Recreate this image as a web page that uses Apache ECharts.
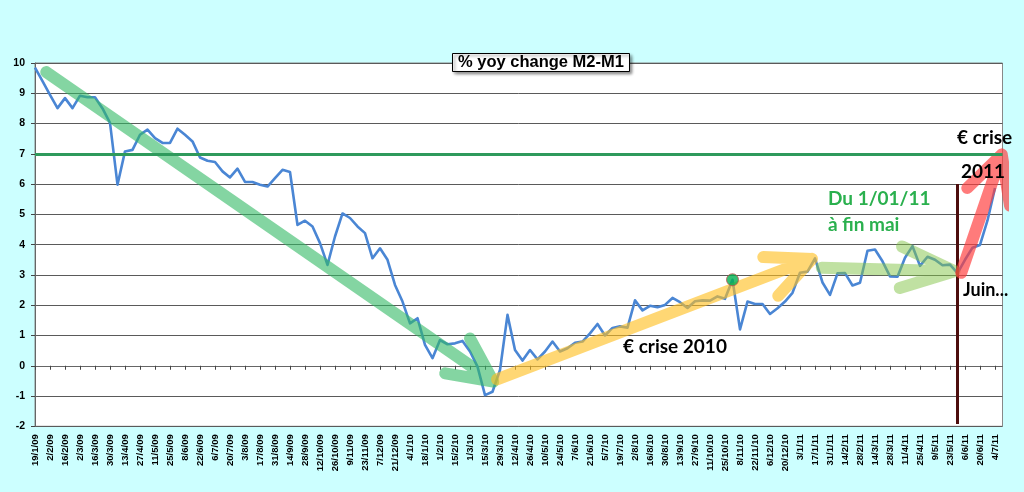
<!DOCTYPE html>
<html>
<head>
<meta charset="utf-8">
<script src="https://cdn.jsdelivr.net/npm/echarts@6/dist/echarts.min.js"></script>
<style>
  html, body { margin: 0; padding: 0; background: #ccffff; }
  #chart { width: 1024px; height: 492px; }
</style>
</head>
<body>
<div id="chart"></div>
<script>
// semaines (lundi), une étiquette sur deux est affichée
var weeks = [
  "19/1/09","26/1/09","2/2/09","9/2/09","16/2/09","23/2/09","2/3/09","9/3/09","16/3/09","23/3/09",
  "30/3/09","6/4/09","13/4/09","20/4/09","27/4/09","4/5/09","11/5/09","18/5/09","25/5/09","1/6/09",
  "8/6/09","15/6/09","22/6/09","29/6/09","6/7/09","13/7/09","20/7/09","27/7/09","3/8/09","10/8/09",
  "17/8/09","24/8/09","31/8/09","7/9/09","14/9/09","21/9/09","28/9/09","5/10/09","12/10/09","19/10/09",
  "26/10/09","2/11/09","9/11/09","16/11/09","23/11/09","30/11/09","7/12/09","14/12/09","21/12/09","28/12/09",
  "4/1/10","11/1/10","18/1/10","25/1/10","1/2/10","8/2/10","15/2/10","22/2/10","1/3/10","8/3/10",
  "15/3/10","22/3/10","29/3/10","5/4/10","12/4/10","19/4/10","26/4/10","3/5/10","10/5/10","17/5/10",
  "24/5/10","31/5/10","7/6/10","14/6/10","21/6/10","28/6/10","5/7/10","12/7/10","19/7/10","26/7/10",
  "2/8/10","9/8/10","16/8/10","23/8/10","30/8/10","6/9/10","13/9/10","20/9/10","27/9/10","4/10/10",
  "11/10/10","18/10/10","25/10/10","1/11/10","8/11/10","15/11/10","22/11/10","29/11/10","6/12/10","13/12/10",
  "20/12/10","27/12/10","3/1/11","10/1/11","17/1/11","24/1/11","31/1/11","7/2/11","14/2/11","21/2/11",
  "28/2/11","7/3/11","14/3/11","21/3/11","28/3/11","4/4/11","11/4/11","18/4/11","25/4/11","2/5/11",
  "9/5/11","16/5/11","23/5/11","30/5/11","6/6/11","13/6/11","20/6/11","27/6/11","4/7/11","11/7/11"
];

// % yoy change M2-M1
var m2m1 = [
  9.85, 9.40, 8.95, 8.51, 8.84, 8.51, 8.92, 8.87, 8.87, 8.50,
  8.02, 5.98, 7.08, 7.13, 7.63, 7.80, 7.52, 7.36, 7.36, 7.83,
  7.63, 7.41, 6.88, 6.77, 6.73, 6.42, 6.22, 6.51, 6.07, 6.07,
  5.98, 5.92, 6.20, 6.47, 6.40, 4.65, 4.79, 4.60, 4.05, 3.33,
  4.27, 5.03, 4.88, 4.60, 4.38, 3.55, 3.88, 3.50, 2.67, 2.12,
  1.40, 1.57, 0.69, 0.25, 0.85, 0.71, 0.74, 0.82, 0.47, -0.03,
  -0.97, -0.86, -0.14, 1.68, 0.52, 0.17, 0.52, 0.21, 0.47, 0.80,
  0.47, 0.58, 0.76, 0.80, 1.07, 1.38, 1.00, 1.25, 1.30, 1.26,
  2.16, 1.83, 1.98, 1.93, 2.01, 2.24, 2.10, 1.91, 2.13, 2.16,
  2.15, 2.29, 2.21, 2.84, 1.20, 2.12, 2.04, 2.04, 1.71, 1.90,
  2.12, 2.41, 3.07, 3.11, 3.55, 2.75, 2.34, 3.05, 3.06, 2.65,
  2.74, 3.80, 3.84, 3.45, 2.95, 2.94, 3.57, 3.95, 3.30, 3.60,
  3.50, 3.32, 3.34, 3.06, 3.50, 3.90, 3.99, 4.80, 5.87
];

var yTicks = { min: -2, max: 10, step: 1 };
var seuil = 7;

// point vert et ligne verticale (juin 2011)
var pointVert = [["1/11/10", 2.84]];
var ligneJuin = [["30/5/11", 6], ["30/5/11", -1.92]];

// flèches : [index semaine, valeur]
var flecheVerte = [[1.5, 9.7], [61.1, -0.52], "-", [54.7, -0.25], [61.1, -0.52], [58, 0.9]];
var flecheJaune = [[61.6, -0.45], [103.6, 3.53], "-", [97.1, 3.59], [103.6, 3.53], [99.1, 2.31]];
var flecheLime  = [[104.9, 3.24], [122.6, 3.12], "-", [115.6, 3.94], [122.6, 3.12], [115.3, 2.57]];
var flecheRouge = [[123.5, 3.07], [128.9, 6.98], "-", [124.3, 5.87], [128.9, 6.98], [130, 5.29]];

var myChart = echarts.init(document.getElementById("chart"));

function fleche(data, color, width) {
  return {
    type: "line",
    xAxisIndex: 1,
    data: data,
    symbol: "none",
    clip: false,
    silent: true,
    z: 4,
    lineStyle: { color: color, width: width, cap: "round", join: "round" }
  };
}

var axisFont = "Liberation Sans, Arial, sans-serif";
var noteFont = "Lato, 'Open Sans', sans-serif";

var option = {
  backgroundColor: "#ccffff",
  animation: false,
  title: {
    text: "% yoy change M2-M1",
    left: 452,
    top: 53,
    padding: [1, 6, 1, 6],
    backgroundColor: "#fff",
    borderColor: "#000",
    borderWidth: 1,
    shadowColor: "rgba(0,0,0,0.45)",
    shadowBlur: 3,
    shadowOffsetX: 2,
    shadowOffsetY: 2,
    textStyle: { fontFamily: axisFont, fontSize: 16.5, fontWeight: "bold", color: "#000" }
  },
  grid: {
    left: 35, right: 21.5, top: 63, bottom: 65.7,
    show: true, backgroundColor: "#fff", borderColor: "#888", borderWidth: 1
  },
  xAxis: [
    {
      type: "category",
      data: weeks,
      boundaryGap: false,
      axisLine: { lineStyle: { color: "#666", width: 1 } },
      axisTick: { interval: 1, length: 4, lineStyle: { color: "#444" } },
      axisLabel: {
        interval: 1, rotate: 90, margin: 8,
        fontFamily: axisFont, fontSize: 9.5, fontWeight: "bold", color: "#000"
      },
      splitLine: { show: false }
    },
    { type: "value", min: 0, max: 129, show: false }
  ],
  yAxis: {
    type: "value",
    min: yTicks.min,
    max: yTicks.max,
    interval: yTicks.step,
    axisLine: { show: true, lineStyle: { color: "#666" } },
    axisTick: { show: true, length: 4, lineStyle: { color: "#444" } },
    axisLabel: { margin: 10, fontFamily: axisFont, fontSize: 10.5, fontWeight: "bold", color: "#000" },
    splitLine: { lineStyle: { color: "#5a5a5a", width: 1 } }
  },
  series: [
    {
      type: "line",
      data: m2m1,
      symbol: "none",
      z: 2,
      lineStyle: { color: "#4a86d4", width: 2.6, join: "round" },
      markLine: {
        silent: true,
        symbol: "none",
        label: { show: false },
        lineStyle: { color: "#2f9a5c", width: 3, type: "solid" },
        data: [{ yAxis: seuil }]
      }
    },
    {
      type: "line",
      data: ligneJuin,
      symbol: "none",
      z: 3,
      silent: true,
      lineStyle: { color: "#4d0d0d", width: 3 }
    },
    fleche(flecheVerte, "rgba(50,185,100,0.6)", 12),
    fleche(flecheJaune, "rgba(255,190,30,0.62)", 12),
    fleche(flecheLime, "rgba(130,195,70,0.5)", 12),
    fleche(flecheRouge, "rgba(255,60,60,0.68)", 12),
    {
      type: "scatter",
      data: pointVert,
      symbolSize: 12,
      z: 5,
      itemStyle: { color: "#00b050", borderColor: "#c0504d", borderWidth: 1 }
    }
  ],
  graphic: [
    { type: "text", left: 957, top: 128, z: 10,
      style: { text: "€ crise", font: "bold 19px " + noteFont, fill: "#000" } },
    { type: "text", left: 961, top: 162, z: 10,
      style: { text: "2011", font: "bold 19px " + noteFont, fill: "#000" } },
    { type: "text", left: 828, top: 189, z: 10,
      style: { text: "Du 1/01/11", font: "bold 19px " + noteFont, fill: "#2ab04e" } },
    { type: "text", left: 828, top: 215, z: 10,
      style: { text: "à fin mai", font: "bold 19px " + noteFont, fill: "#2ab04e" } },
    { type: "text", left: 623, top: 337, z: 10,
      style: { text: "€ crise 2010", font: "bold 19px " + noteFont, fill: "#000" } },
    { type: "text", left: 963, top: 281, z: 10,
      style: { text: "Juin...", font: "bold 18px " + noteFont, fill: "#000" } }
  ]
};

myChart.setOption(option);
</script>
</body>
</html>
